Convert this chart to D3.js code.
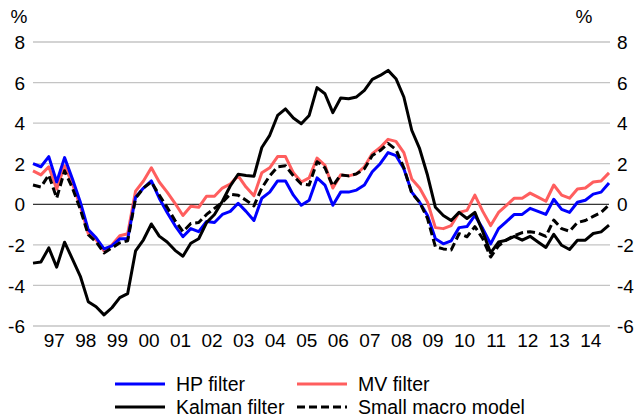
<!DOCTYPE html>
<html>
<head>
<meta charset="utf-8">
<script src="https://cdn.jsdelivr.net/npm/d3@7/dist/d3.min.js"></script>
<style>
  html, body { margin: 0; padding: 0; background: #fff; }
  svg text { font-family: "Liberation Sans", Arial, sans-serif; fill: #000; }
</style>
</head>
<body>
<svg id="chart" width="635" height="420"></svg>
<script>
// Quarterly estimates, 1996 Q4 to 2015 Q1 (per cent)
const firstYear = 1996, firstQuarter = 4;

const hpFilter = [
  2.0, 1.85, 2.35, 1.1, 2.3, 1.25, 0.1, -1.25, -1.65, -2.2, -2.05, -1.7, -1.7, 0.35,
  0.8, 1.15, 0.3, -0.4, -1.05, -1.6, -1.2, -1.35, -0.85, -0.9, -0.5, -0.35, 0.05,
  -0.35, -0.8, 0.3, 0.6, 1.15, 1.15, 0.45, -0.05, 0.2, 1.3, 0.95, -0.05, 0.6, 0.6,
  0.7, 0.95, 1.6, 2.0, 2.55, 2.4, 1.75, 0.6, 0.1, -0.55, -1.7, -1.95, -1.8, -1.15,
  -1.1, -0.55, -1.2, -1.95, -1.2, -0.85, -0.5, -0.5, -0.2, -0.35, -0.5, 0.25, -0.25,
  -0.4, 0.1, 0.2, 0.5, 0.6, 1.05
];

const mvFilter = [
  1.65, 1.45, 1.85, 0.75, 1.9, 1.0, -0.1, -1.45, -1.75, -2.3, -2.0, -1.55, -1.45, 0.65,
  1.15, 1.8, 1.1, 0.6, 0.05, -0.55, -0.1, -0.15, 0.4, 0.4, 0.8, 1.0, 1.4, 0.85, 0.42,
  1.55, 1.8, 2.35, 2.35, 1.55, 1.1, 1.3, 2.28, 1.92, 0.8, 1.45, 1.4, 1.5, 1.85, 2.5,
  2.8, 3.2, 3.1, 2.55, 1.25, 0.8, 0.1, -1.15, -1.2, -1.05, -0.4, -0.3, 0.45, -0.35,
  -1.05, -0.4, -0.05, 0.3, 0.3, 0.55, 0.35, 0.15, 0.95, 0.45, 0.3, 0.75, 0.8, 1.1,
  1.15, 1.55
];

const kalmanFilter = [
  -2.9, -2.85, -2.15, -3.1, -1.87, -2.7, -3.55, -4.8, -5.05, -5.45, -5.1, -4.6, -4.4,
  -2.3, -1.75, -0.97, -1.57, -1.86, -2.27, -2.56, -1.92, -1.7, -0.9, -0.5, 0.15, 0.9,
  1.48, 1.42, 1.38, 2.8, 3.4, 4.38, 4.7, 4.25, 3.97, 4.38, 5.75, 5.45, 4.52, 5.24,
  5.2, 5.29, 5.62, 6.16, 6.35, 6.6, 6.19, 5.29, 3.65, 2.74, 1.43, -0.15, -0.55, -0.8,
  -0.4, -0.7, -0.4, -1.35, -2.4, -1.86, -1.77, -1.58, -1.77, -1.58, -1.86, -2.13,
  -1.48, -2.02, -2.23, -1.77, -1.77, -1.44, -1.36, -1.03
];

const smallMacroModel = [
  0.95, 0.85, 1.45, 0.3, 1.65, 0.8, -0.25, -1.5, -1.85, -2.4, -2.15, -1.9, -1.8, 0.3,
  0.8, 1.1, 0.45, -0.15, -0.8, -1.35, -0.95, -0.9, -0.5, -0.2, 0.1, 0.5, 0.45, 0.2,
  -0.08, 0.8, 1.4, 1.85, 1.9, 1.4, 1.0, 0.95, 2.1, 1.8, 0.9, 1.45, 1.4, 1.5, 1.75,
  2.4, 2.65, 3.0, 2.7, 1.8, 0.55, 0.1, -0.7, -2.1, -2.2, -2.25, -1.45, -1.6, -1.1,
  -1.7, -2.6, -2.05, -1.75, -1.55, -1.4, -1.35, -1.42, -1.58, -0.78, -1.2, -1.33,
  -0.9, -0.8, -0.6, -0.4, -0.03
];

const yTicks = [-6, -4, -2, 0, 2, 4, 6, 8];
const yearLabels = ["97", "98", "99", "00", "01", "02", "03", "04", "05",
                    "06", "07", "08", "09", "10", "11", "12", "13", "14"];
const firstLabelYear = 1997;

const seriesNames = ["HP filter", "MV filter", "Kalman filter", "Small macro model"];
const seriesColors = ["#0000ff", "#ff5e5e", "#000000", "#000000"];

// ---- layout ----
const svg = d3.select("#chart");
const plot = { left: 33, right: 609, top: 42, bottom: 326 };
const FONT = '"Liberation Sans", Arial, sans-serif';
const tickSize = 19, legendSize = 19.5;

const n = hpFilter.length;
const x = d3.scaleLinear().domain([0, n - 1]).range([plot.left, plot.right]);
const y = d3.scaleLinear().domain([-6, 8]).range([plot.bottom, plot.top]);

// index of the first quarter of a given year
const q1Index = yr => (yr - firstYear) * 4 + (1 - firstQuarter);

// plain hyphen for negatives
const fmt = d => String(d);

// horizontal gridlines
svg.append("g").selectAll("line")
  .data(yTicks.filter(t => t !== 0))
  .join("line")
  .attr("x1", plot.left).attr("x2", plot.right + 1)
  .attr("y1", d => y(d)).attr("y2", d => y(d))
  .attr("stroke", "#c4c4c4").attr("stroke-width", 1.3);

// y-axis labels, both sides
const leftAxis = d3.axisLeft(y).tickValues(yTicks).tickFormat(fmt).tickSize(0).tickPadding(8);
const gl = svg.append("g").attr("transform", `translate(${plot.left},0)`).call(leftAxis);
gl.select(".domain").remove();
gl.selectAll("text").attr("font-size", tickSize).attr("dy", "0.35em")
  .style("font-family", FONT).attr("fill", "#000");

const rightAxis = d3.axisRight(y).tickValues(yTicks).tickFormat(fmt).tickSize(0).tickPadding(8);
const gr = svg.append("g").attr("transform", `translate(${plot.right},0)`).call(rightAxis);
gr.select(".domain").remove();
gr.selectAll("text").attr("font-size", tickSize).attr("dy", "0.35em")
  .style("font-family", FONT).attr("fill", "#000");

// unit markers
svg.append("text").attr("x", 19).attr("y", 23).attr("text-anchor", "middle")
  .attr("font-size", tickSize).text("%");
svg.append("text").attr("x", 584).attr("y", 23).attr("text-anchor", "middle")
  .attr("font-size", tickSize).text("%");

// year labels, centred under each year's quarters
svg.append("g").selectAll("text")
  .data(yearLabels)
  .join("text")
  .attr("x", (d, k) => x(q1Index(firstLabelYear + k) + 1.7))
  .attr("y", 347)
  .attr("text-anchor", "middle")
  .attr("font-size", tickSize)
  .text(d => d);

// zero line
svg.append("line")
  .attr("x1", plot.left).attr("x2", plot.right)
  .attr("y1", y(0)).attr("y2", y(0))
  .attr("stroke", "#000").attr("stroke-width", 1);

// series
const line = d3.line().x((d, i) => x(i)).y(d => y(d));
const series = [
  { values: mvFilter, color: seriesColors[1], dash: null },
  { values: hpFilter, color: seriesColors[0], dash: null },
  { values: kalmanFilter, color: seriesColors[2], dash: null },
  { values: smallMacroModel, color: seriesColors[3], dash: "8,4" }
];
svg.append("g").selectAll("path")
  .data(series)
  .join("path")
  .attr("d", s => line(s.values))
  .attr("fill", "none")
  .attr("stroke", s => s.color)
  .attr("stroke-width", 3)
  .attr("stroke-linejoin", "round")
  .attr("stroke-dasharray", s => s.dash);

// legend
const legendItems = [
  { name: seriesNames[0], color: seriesColors[0], dash: null, lx: 115, ly: 384 },
  { name: seriesNames[1], color: seriesColors[1], dash: null, lx: 297, ly: 384 },
  { name: seriesNames[2], color: seriesColors[2], dash: null, lx: 115, ly: 407 },
  { name: seriesNames[3], color: seriesColors[3], dash: "8,4", lx: 297, ly: 407 }
];
const lg = svg.append("g").selectAll("g").data(legendItems).join("g")
  .attr("transform", d => `translate(${d.lx},${d.ly})`);
lg.append("line").attr("x1", 0).attr("x2", 50).attr("y1", 0).attr("y2", 0)
  .attr("stroke", d => d.color).attr("stroke-width", 3)
  .attr("stroke-dasharray", d => d.dash);
lg.append("text").attr("x", 61).attr("y", 0).attr("dy", "0.35em")
  .attr("font-size", legendSize).text(d => d.name);
</script>
</body>
</html>
